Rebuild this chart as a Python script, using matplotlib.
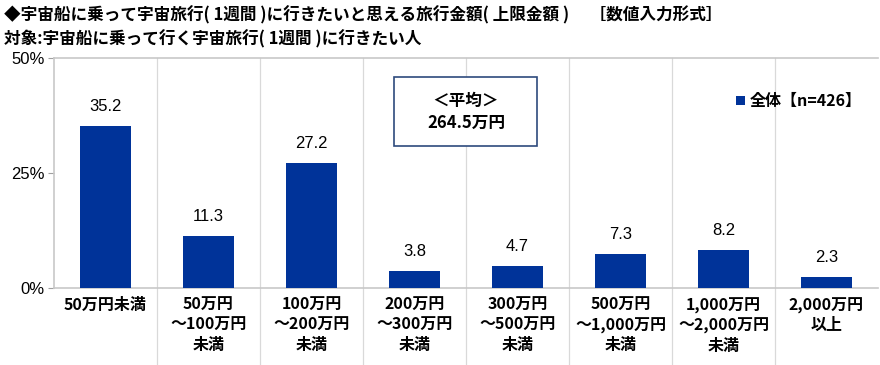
import matplotlib
matplotlib.use('Agg')
import matplotlib.pyplot as plt
from matplotlib.patches import Rectangle

plt.rcParams['font.family'] = ['Noto Sans CJK JP', 'DejaVu Sans']

categories = ['50万円未満', '50万円\n～100万円\n未満', '100万円\n～200万円\n未満',
              '200万円\n～300万円\n未満', '300万円\n～500万円\n未満', '500万円\n～1,000万円\n未満',
              '1,000万円\n～2,000万円\n未満', '2,000万円\n以上']
values = [35.2, 11.3, 27.2, 3.8, 4.7, 7.3, 8.2, 2.3]
yticks = [0, 25, 50]
ytick_labels = ['0%', '25%', '50%']

title = '◆宇宙船に乗って宇宙旅行( 1週間 )に行きたいと思える旅行金額( 上限金額 )　 ［数値入力形式］'
subtitle = '対象:宇宙船に乗って行く宇宙旅行( 1週間 )に行きたい人'
legend_label = '全体【n=426】'
avg_text = '＜平均＞\n264.5万円'

bar_color = '#003399'
grid_color = '#d9d9d9'

fig = plt.figure(figsize=(8.8, 3.65), dpi=100)
ax = fig.add_axes([54 / 880, 1 - 288 / 365, 824 / 880, 230 / 365])

x = range(len(values))
bars = ax.bar(x, values, width=0.5, color=bar_color, label=legend_label, zorder=3)
for xi, v in zip(x, values):
    ax.text(xi, v + 2.6, '%.1f' % v, ha='center', va='bottom', fontsize=12,
            family=['Liberation Sans', 'DejaVu Sans'])

ax.set_xlim(-0.5, len(values) - 0.5)
ax.set_ylim(0, 50)
ax.set_yticks(yticks)
ax.set_yticklabels(ytick_labels, fontsize=12, family=['Liberation Sans', 'DejaVu Sans'])
ax.tick_params(axis='y', length=4, color='#a0a0a0', pad=3)
ax.set_xticks([])

for s in ['left', 'bottom', 'top']:
    ax.spines[s].set_color('#c8c8c8')
    ax.spines[s].set_linewidth(1.2)
ax.spines['right'].set_visible(False)

# category separators, running down through the label area
trans = ax.get_xaxis_transform()
for b in range(1, len(values)):
    ax.plot([b - 0.5, b - 0.5], [1, -0.33], transform=trans, color=grid_color,
            lw=0.9, clip_on=False, zorder=1)

for xi, lab in zip(x, categories):
    ax.text(xi, -0.04, lab, transform=trans, ha='center', va='top', fontsize=11.5,
            fontweight='bold', linespacing=1.3)

# average box
fig.patches.append(Rectangle((394 / 880, 1 - 146 / 365), 143 / 880, 69 / 365,
                             transform=fig.transFigure, fill=True, facecolor='white',
                             edgecolor='#2e4a7d', lw=1.2, zorder=5))
fig.text(466 / 880, 1 - 112 / 365, avg_text, ha='center', va='center', fontsize=12,
         fontweight='bold', linespacing=1.3, zorder=6)

ax.legend(loc='center left', bbox_to_anchor=(722 / 880, 1 - 101 / 365),
          bbox_transform=fig.transFigure, frameon=False, handlelength=0.55,
          handleheight=0.55, handletextpad=0.3, prop={'size': 11.5, 'weight': 'bold'})

fig.text(4 / 880, 1 - 15 / 365, title, ha='left', va='center', fontsize=12, fontweight='bold')
fig.text(4 / 880, 1 - 39 / 365, subtitle, ha='left', va='center', fontsize=12, fontweight='bold')

fig.savefig('out.png', dpi=100)
